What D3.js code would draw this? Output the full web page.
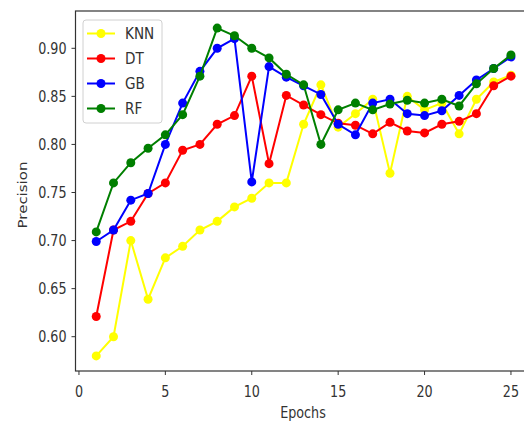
<!DOCTYPE html>
<html>
<head>
<meta charset="utf-8">
<script src="https://cdn.jsdelivr.net/npm/d3@7"></script>
<style>
  body { margin: 0; background: #fff; }
  svg { display: block; }
  text { font-family: "DejaVu Sans", sans-serif; fill: #333; }
</style>
</head>
<body>
<svg width="524" height="425"></svg>
<script>
const epochs = d3.range(1, 26);
const knn = [0.58, 0.60, 0.70, 0.639, 0.682, 0.694, 0.711, 0.72, 0.735, 0.744, 0.76, 0.76, 0.821, 0.862,
    0.818, 0.832, 0.847, 0.77, 0.85, 0.836, 0.843, 0.811, 0.847, 0.865, 0.872];
const dt = [0.621, 0.711, 0.72, 0.749, 0.76, 0.794, 0.80, 0.821, 0.83, 0.871, 0.78, 0.851, 0.841, 0.831,
    0.822, 0.82, 0.811, 0.823, 0.814, 0.812, 0.821, 0.824, 0.832, 0.861, 0.871];
const gb = [0.699, 0.711, 0.742, 0.749, 0.80, 0.843, 0.876, 0.90, 0.91, 0.761, 0.881, 0.87, 0.861, 0.852,
    0.821, 0.81, 0.843, 0.847, 0.832, 0.83, 0.835, 0.851, 0.867, 0.879, 0.891];
const rf = [0.709, 0.76, 0.781, 0.796, 0.81, 0.831, 0.871, 0.921, 0.913, 0.90, 0.89, 0.873, 0.862, 0.80,
    0.836, 0.843, 0.836, 0.842, 0.846, 0.843, 0.847, 0.84, 0.863, 0.879, 0.893];
const seriesNames = ["KNN", "DT", "GB", "RF"];
const seriesColors = ["#ffff00", "#ff0000", "#0000ff", "#007f00"];
const xTicks = [0, 5, 10, 15, 20, 25];
const yTicks = [0.60, 0.65, 0.70, 0.75, 0.80, 0.85, 0.90];

const series = [knn, dt, gb, rf].map((vals, i) => ({
    name: seriesNames[i],
    color: seriesColors[i],
    points: vals.map((v, j) => ({ x: epochs[j], y: v }))
}));

const svg = d3.select("svg");
const plotLeft = 75.5, plotTop = 11, plotBottom = 371, plotRight = 531.7;
const sx = 0.85; // text looks squeezed sideways

const x = d3.scaleLinear().domain([-0.2, 26.2]).range([plotLeft, plotRight]);
const y = d3.scaleLinear().domain([0.6, 0.9]).range([336.7, 48.3]);

// frame
svg.append("rect")
    .attr("x", plotLeft).attr("y", plotTop)
    .attr("width", plotRight - plotLeft).attr("height", plotBottom - plotTop)
    .attr("fill", "none").attr("stroke", "#333").attr("stroke-width", 1.2);

// x axis
const xAxis = svg.append("g");
xTicks.forEach(t => {
    xAxis.append("line")
        .attr("x1", x(t)).attr("x2", x(t))
        .attr("y1", plotBottom).attr("y2", plotBottom + 4)
        .attr("stroke", "#333");
    xAxis.append("text")
        .attr("transform", `translate(${x(t)},${plotBottom + 26}) scale(${sx},1)`)
        .attr("text-anchor", "middle")
        .attr("font-size", 15)
        .text(t);
});

// y axis
const yAxis = svg.append("g");
yTicks.forEach(t => {
    yAxis.append("line")
        .attr("x1", plotLeft - 4).attr("x2", plotLeft)
        .attr("y1", y(t)).attr("y2", y(t))
        .attr("stroke", "#333");
    yAxis.append("text")
        .attr("transform", `translate(${plotLeft - 9},${y(t)}) scale(${sx},1)`)
        .attr("text-anchor", "end")
        .attr("dominant-baseline", "central")
        .attr("font-size", 15)
        .text(d3.format(".2f")(t));
});

svg.append("text")
    .attr("transform", `translate(303,${plotBottom + 47}) scale(${sx},1)`)
    .attr("text-anchor", "middle")
    .attr("font-size", 15)
    .text("Epochs");

svg.append("text")
    .attr("transform", `translate(27,${(plotTop + plotBottom) / 2 + 4}) scale(${sx},1) rotate(-90)`)
    .attr("text-anchor", "middle")
    .attr("font-size", 15)
    .text("Precision");

// lines + markers
const line = d3.line().x(d => x(d.x)).y(d => y(d.y));
const plot = svg.append("g");
series.forEach(s => {
    const g = plot.append("g");
    g.append("path")
        .attr("d", line(s.points))
        .attr("fill", "none")
        .attr("stroke", s.color)
        .attr("stroke-width", 2);
    g.selectAll("circle")
        .data(s.points)
        .join("circle")
        .attr("cx", d => x(d.x))
        .attr("cy", d => y(d.y))
        .attr("r", 4.5)
        .attr("fill", s.color);
});

// legend
const legend = svg.append("g");
legend.append("rect")
    .attr("x", 83).attr("y", 20)
    .attr("width", 79).attr("height", 103)
    .attr("rx", 3)
    .attr("fill", "#fff").attr("fill-opacity", 0.8)
    .attr("stroke", "#d0d0d0");
series.forEach((s, i) => {
    const ly = 33.5 + i * 25;
    legend.append("line")
        .attr("x1", 87).attr("x2", 115)
        .attr("y1", ly).attr("y2", ly)
        .attr("stroke", s.color).attr("stroke-width", 2);
    legend.append("circle")
        .attr("cx", 101).attr("cy", ly).attr("r", 4.5)
        .attr("fill", s.color);
    legend.append("text")
        .attr("transform", `translate(125,${ly}) scale(${sx},1)`)
        .attr("dominant-baseline", "central")
        .attr("font-size", 16)
        .text(s.name);
});
</script>
</body>
</html>
